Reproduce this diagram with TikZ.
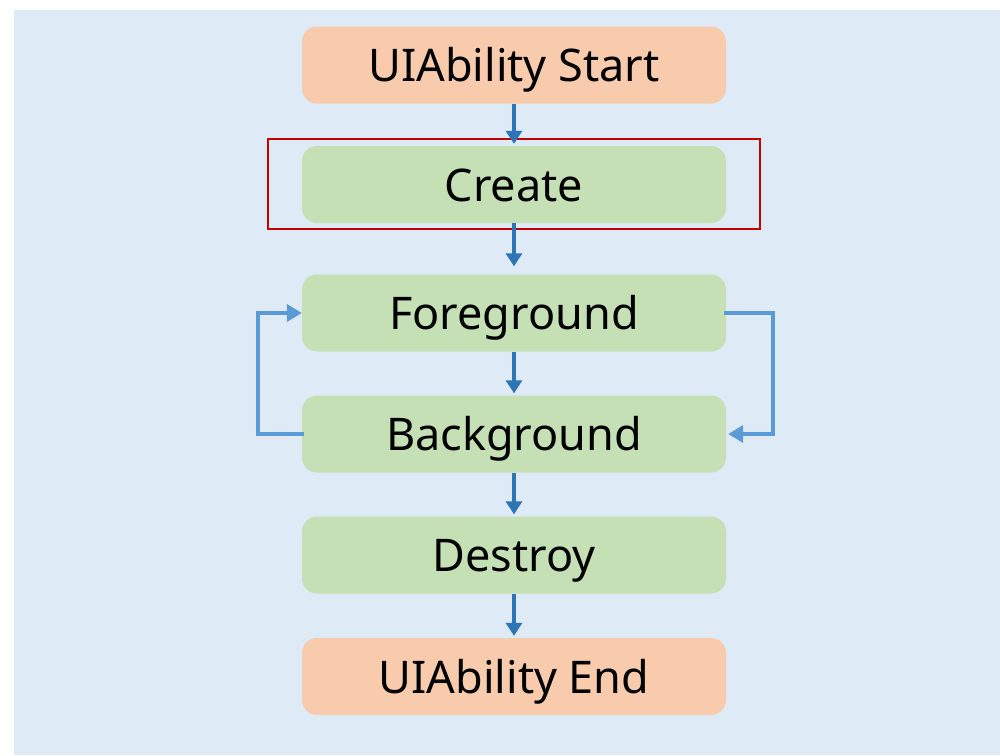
\documentclass[tikz,border=0pt]{standalone}
\usepackage{fontspec}
\setmainfont{Noto Sans}
\usetikzlibrary{arrows.meta}
\definecolor{bgblue}{HTML}{DEEAF6}
\definecolor{peach}{HTML}{F8CBAD}
\definecolor{lgreen}{HTML}{C5E0B4}
\definecolor{darrow}{HTML}{2E75B6}
\definecolor{larrow}{HTML}{5B9BD5}
\definecolor{redframe}{HTML}{C00000}
\tikzset{
  stagebox/.style={rounded corners=15pt, minimum width=424pt, minimum height=77pt,
    inner sep=0pt, font=\fontsize{45}{50}\selectfont, text=black,
    text height=33pt, text depth=0pt},
  endbox/.style={stagebox, fill=peach},
  lifebox/.style={stagebox, fill=lgreen},
  varrow/.style={draw=darrow, line width=4.5pt, -{Triangle[width=16pt,length=13pt]}},
  looparrow/.style={draw=larrow, line width=4pt, -{Triangle[width=17pt,length=15pt]}},
  frame/.style={draw=redframe, line width=2.8pt}
}
\begin{document}
\begin{tikzpicture}[x=1pt,y=-1pt]
\useasboundingbox (0,0) rectangle (1000,755);
\fill[bgblue] (14,10) rectangle (1000,755);
\node[endbox]  (start) at (514,65)    {UIAbility Start};
\node[lifebox] (create) at (514,184.5) {Create};
\node[lifebox] (fore) at (514,313)    {Foreground};
\node[lifebox] (back) at (514,434)    {Background};
\node[lifebox] (destroy) at (514,555) {Destroy};
\node[endbox]  (end) at (514,676.5)   {UIAbility End};
\node[frame, minimum width=492pt, minimum height=90pt, inner sep=0pt] (hl) at (514,184) {};
\draw[varrow] (start.south) -- ([yshift=2pt]create.north);
\draw[varrow] (create.south) -- ([yshift=8pt]fore.north);
\draw[varrow] (fore.south) -- ([yshift=2pt]back.north);
\draw[varrow] (back.south) -- ([yshift=2pt]destroy.north);
\draw[varrow] (destroy.south) -- ([yshift=2pt]end.north);
\coordinate (lc) at (258,0);
\coordinate (rc) at (773,0);
\draw[looparrow] ([xshift=2pt]back.west) -- (back.west -| lc) -- (fore.west -| lc) -- (fore.west);
\draw[looparrow] ([xshift=-2pt]fore.east) -- (fore.east -| rc) -- (back.east -| rc) -- ([xshift=2pt]back.east);
\end{tikzpicture}
\end{document}
